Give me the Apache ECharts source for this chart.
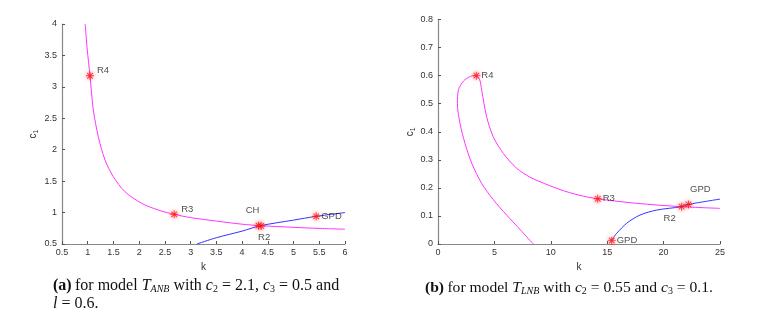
<!DOCTYPE html>
<html><head><meta charset="utf-8">
<script src="https://cdn.jsdelivr.net/npm/echarts@6/dist/echarts.min.js"></script>
<style>html,body{margin:0;padding:0;background:#fff}#c{width:757px;height:319px}</style>
</head><body><div id="c"></div>
<script>
// ---------- Panel (a) data ----------
const aXTicks = [0.5,1,1.5,2,2.5,3,3.5,4,4.5,5,5.5,6];
const aYTicks = [0.5,1,1.5,2,2.5,3,3.5,4];
const aMagenta = [[0.95,4.0],[0.99,3.6],[1.044,3.177],[1.109,2.63],[1.206,2.207],[1.336,1.836],[1.498,1.571],[1.724,1.332],[2.05,1.147],[2.37,1.041],[2.68,0.972],[3.0,0.92],[3.5,0.865],[4.0,0.815],[4.35,0.792],[5.0,0.765],[5.5,0.748],[6.0,0.735]];
const aBlue = [[3.12,0.5],[3.5,0.6],[4.0,0.705],[4.35,0.79],[5.0,0.88],[5.44,0.94],[6.0,1.0]];
const aPoints = [
  {name:'R4', value:[1.044,3.177]},
  {name:'R3', value:[2.68,0.972]},
  {name:'CH', value:[4.32,0.792]},
  {name:'R2', value:[4.37,0.788]},
  {name:'GPD', value:[5.44,0.94]}
];
// ---------- Panel (b) data ----------
const bXTicks = [0,5,10,15,20,25];
const bYTicks = [0,0.1,0.2,0.3,0.4,0.5,0.6,0.7,0.8];
const bMagentaLower = [[8.45,0.0],[7.3,0.0505],[6.09,0.103],[4.9,0.158],[3.87,0.216],[2.99,0.288],[2.39,0.359],[1.95,0.43],[1.72,0.5],[1.82,0.55],[2.25,0.58],[2.86,0.597],[3.4,0.6]];
const bMagentaUpper = [[3.4,0.6],[3.7,0.585],[3.87,0.549],[4.31,0.454],[4.9,0.382],[5.79,0.323],[6.97,0.27],[8.16,0.238],[9.04,0.222],[10.82,0.194],[12.5,0.174],[14.16,0.161],[17.6,0.145],[21.6,0.133],[25,0.127]];
const bBlue = [[15.4,0.014],[15.84,0.038],[16.73,0.074],[17.9,0.103],[19.4,0.121],[21.6,0.133],[22.2,0.141],[25,0.16]];
const bPoints = [
  {name:'R4', value:[3.4,0.6]},
  {name:'R3', value:[14.16,0.161]},
  {name:'R2', value:[21.6,0.133]},
  {name:'GPD', value:[22.2,0.141]},
  {name:'GPD', value:[15.4,0.012]}
];
// label placement (style only)
const aLabelPos = [['right',[0,-5]],['right',[0,-5]],['top',[-6,-3]],['bottom',[3,-1]],['right',[-2,0]]];
const bLabelPos = [['right',[-2,0]],['right',[-2,0]],['bottom',[-12,0]],['top',[12,-3]],['right',[-2,0]]];

const chart = echarts.init(document.getElementById('c'), null, {renderer:'canvas'});
const STAR = 'path://M-0.6,-5L0.6,-5L0.6,5L-0.6,5Z M-5,-0.6L5,-0.6L5,0.6L-5,0.6Z M-3.1,-3.95L3.95,3.1L3.1,3.95L-3.95,-3.1Z M3.1,-3.95L3.95,-3.1L-3.1,3.95L-3.95,3.1Z';
const axisTxt = {color:'#333', fontSize:9, fontFamily:'Liberation Sans, Arial'};
function xAxis(idx, min, max, interval, ticks){
  return {type:'value', gridIndex:idx, min, max, interval, name:'k', nameLocation:'middle', nameGap:16,
    nameTextStyle:{color:'#333', fontSize:10, fontFamily:'Liberation Sans'},
    axisLine:{lineStyle:{color:'#888', width:1.2}}, axisTick:{inside:true, length:3, lineStyle:{color:'#555'}},
    axisLabel:Object.assign({margin:4, formatter:v=>ticks.includes(+v.toFixed(4))?String(+v.toFixed(4)):''}, axisTxt),
    splitLine:{show:false}};
}
function yAxis(idx, min, max, interval, gap){
  return {type:'value', gridIndex:idx, min, max, interval, name:'{c|c}{s|1}', nameLocation:'middle', nameGap:gap, nameRotate:90,
    nameTextStyle:{rich:{c:{fontSize:10,color:'#333',fontFamily:'Liberation Sans'}, s:{fontSize:7,color:'#333',verticalAlign:'bottom',padding:[6,0,0,0],fontFamily:'Liberation Sans'}}},
    axisLine:{lineStyle:{color:'#888', width:1.2}}, axisTick:{inside:true, length:3, lineStyle:{color:'#555'}},
    axisLabel:Object.assign({margin:5, formatter:v=>String(+v.toFixed(4))}, axisTxt),
    splitLine:{show:false}};
}
function pts(data, pos, xi){
  return {type:'scatter', xAxisIndex:xi, yAxisIndex:xi, symbol:STAR, symbolSize:8, z:5,
    itemStyle:{color:'#ff1010', shadowColor:'rgba(255,60,60,0.9)', shadowBlur:4},
    data: data.map((d,i)=>({name:d.name, value:d.value, label:{show:true, formatter:'{b}', position:pos[i][0], offset:pos[i][1], distance:3, color:'#222', fontSize:9.5, fontFamily:'Liberation Sans'}}))};
}
const lineBase = {type:'line', showSymbol:false, smooth:0.3, silent:true};
function capRich(fs){
  return {b:{fontWeight:'bold',fontSize:fs,fontFamily:'Liberation Serif',fill:'#111'}, n:{fontSize:fs,fontFamily:'Liberation Serif',fill:'#111'},
  i:{fontSize:fs,fontStyle:'italic',fontFamily:'Liberation Serif',fill:'#111'}, si:{fontSize:10,fontStyle:'italic',fontFamily:'Liberation Serif',fill:'#111',padding:[7,0,0,0]},
  s:{fontSize:10,fontFamily:'Liberation Serif',fill:'#111',padding:[7,0,0,0]}};
}
chart.setOption({
  animation:false,
  grid:[{left:62, top:24, width:283, height:220},{left:438, top:19.5, width:282, height:224.5}],
  xAxis:[xAxis(0,0.5,6,0.5,aXTicks), xAxis(1,0,25,5,bXTicks)],
  yAxis:[yAxis(0,0.5,4,0.5,22), yAxis(1,0,0.8,0.1,20)],
  series:[
    Object.assign({}, lineBase, {xAxisIndex:0,yAxisIndex:0,data:aMagenta,lineStyle:{color:'#ff33ff',width:1}}),
    Object.assign({}, lineBase, {xAxisIndex:0,yAxisIndex:0,data:aBlue,lineStyle:{color:'#3333ff',width:1}}),
    pts(aPoints, aLabelPos, 0),
    Object.assign({}, lineBase, {xAxisIndex:1,yAxisIndex:1,data:bMagentaLower,lineStyle:{color:'#ff33ff',width:1}}),
    Object.assign({}, lineBase, {xAxisIndex:1,yAxisIndex:1,data:bMagentaUpper,lineStyle:{color:'#ff33ff',width:1}}),
    Object.assign({}, lineBase, {xAxisIndex:1,yAxisIndex:1,data:bBlue,lineStyle:{color:'#3333ff',width:1}}),
    pts(bPoints, bLabelPos, 1)
  ],
  graphic:[
    {type:'text', left:53, top:278, style:{
      text:'{b|(a)} {n|for model }{i|T}{si|ANB}{n| with }{i|c}{s|2}{n| = 2.1, }{i|c}{s|3}{n| = 0.5 and}', rich:capRich(16)}},
    {type:'text', left:53, top:296, style:{
      text:'{i|l}{n| = 0.6.}', rich:capRich(16)}},
    {type:'text', left:425, top:280, style:{
      text:'{b|(b)} {n|for model }{i|T}{si|LNB}{n| with }{i|c}{s|2}{n| = 0.55 and }{i|c}{s|3}{n| = 0.1.}', rich:capRich(15.6)}}
  ]
});
</script></body></html>
